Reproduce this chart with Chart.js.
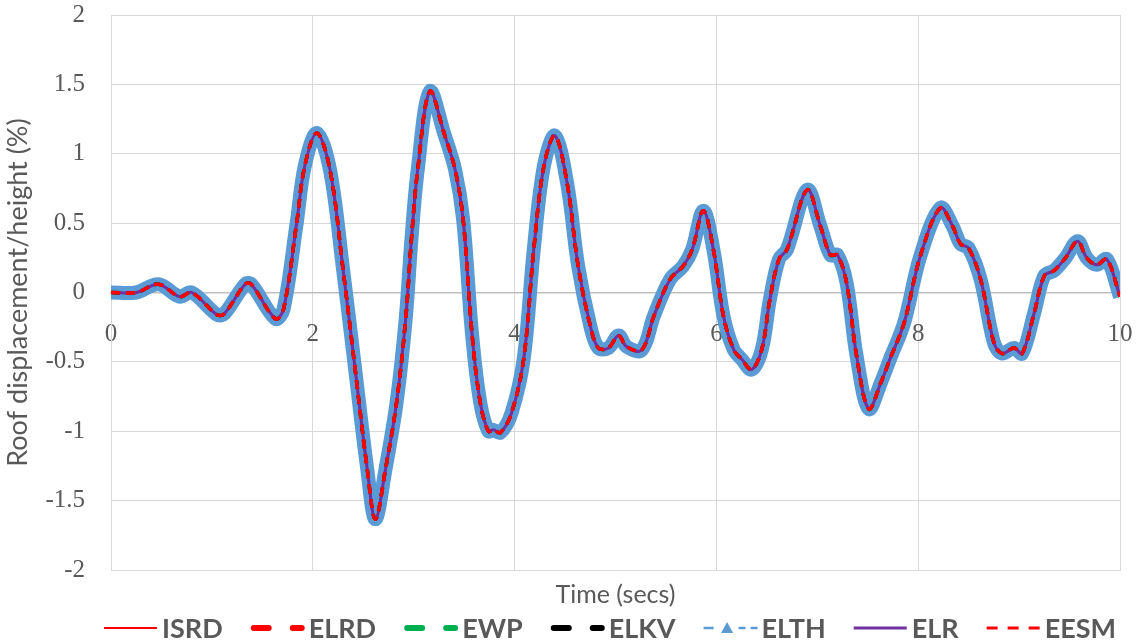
<!DOCTYPE html>
<html>
<head>
<meta charset="utf-8">
<script src="https://cdn.jsdelivr.net/npm/chart.js@4.4.1/dist/chart.umd.min.js"></script>
<style>
  html, body { margin: 0; padding: 0; background: #ffffff; }
  #wrap { width: 1139px; height: 644px; position: relative; }
</style>
</head>
<body>
<div id="wrap"><canvas id="c" width="1139" height="644"></canvas></div>
<script>
// Time axis (seconds)
const timeSecs = [
  0, 0.25, 0.47, 0.68, 0.80, 1.05, 1.12, 1.33, 1.39, 1.63, 1.71, 1.84, 1.92,
  2.04, 2.17, 2.30, 2.42, 2.54, 2.62, 2.72, 2.83, 2.92, 2.98, 3.04, 3.16,
  3.30, 3.41, 3.49, 3.58, 3.66, 3.74, 3.79, 3.86, 3.97, 4.09, 4.19, 4.29,
  4.40, 4.52, 4.63, 4.75, 4.83, 4.93, 5.03, 5.11, 5.26, 5.38, 5.54, 5.67,
  5.76, 5.87, 5.97, 6.07, 6.17, 6.25, 6.35, 6.45, 6.53, 6.62, 6.70, 6.90,
  7.03, 7.13, 7.20, 7.29, 7.39, 7.51, 7.63, 7.72, 7.86, 8.02, 8.22, 8.34,
  8.42, 8.50, 8.62, 8.75, 8.83, 8.95, 9.03, 9.15, 9.25, 9.35, 9.46, 9.58,
  9.67, 9.77, 9.87, 10.0
];

// Roof displacement / height (%) -- all seven models trace the same response
const roofDrift = [
  0, 0, 0.06, -0.03, 0.0, -0.16, -0.155, 0.06, 0.06, -0.19, -0.12, 0.5, 0.91,
  1.15, 0.886, 0.166, -0.555, -1.275, -1.635, -1.275, -0.795, -0.195, 0.406, 0.886, 1.45,
  1.15, 0.886, 0.526, -0.315, -0.795, -1.0, -0.99, -1.01, -0.867, -0.48, 0.31, 0.91,
  1.13, 0.79, 0.19, -0.24, -0.40, -0.40, -0.31, -0.39, -0.415, -0.17, 0.094, 0.19,
  0.31, 0.59, 0.31, -0.17, -0.41, -0.48, -0.555, -0.41, -0.05, 0.24, 0.31, 0.74,
  0.48, 0.27, 0.27, 0.07, -0.46, -0.84, -0.65, -0.48, -0.22, 0.26, 0.61, 0.48,
  0.35, 0.32, 0.09, -0.36, -0.44, -0.40, -0.44, -0.146, 0.12, 0.16, 0.25, 0.37,
  0.25, 0.20, 0.24, -0.03
];

const seriesNames = ['ISRD', 'ELRD', 'EWP', 'ELKV', 'ELTH', 'ELR', 'EESM'];
const yTickLabels = ['-2', '-1.5', '-1', '-0.5', '0', '0.5', '1', '1.5', '2'];
const xTickLabels = ['0', '2', '4', '6', '8', '10'];

const toPoints = vals => timeSecs.map((t, i) => ({ x: t, y: vals[i] }));

const GREY_TEXT = '#595959';
const GRID = '#d9d9d9';
const SANS = 'Lato, "Open Sans", sans-serif';
const SERIF = '"Liberation Serif", "DejaVu Serif", serif';

// line styling per series (drawing order: lower "order" ends up on top)
const seriesStyle = {
  ISRD: { color: '#ff0000', width: 2,   dash: [],      order: 5 },
  ELRD: { color: '#ff0000', width: 3.5, dash: [9, 6],  order: 1 },
  EWP:  { color: '#00b050', width: 3.5, dash: [9, 6],  order: 4 },
  ELKV: { color: '#000000', width: 3.5, dash: [9, 6],  order: 3 },
  ELTH: { color: '#5b9bd5', width: 14,  dash: [],      order: 6 },
  ELR:  { color: '#7030a0', width: 3,   dash: [],      order: 2 },
  EESM: { color: '#ff0000', width: 3,   dash: [9, 6],  order: 0 }
};

const datasets = seriesNames.map(name => {
  const s = seriesStyle[name];
  return {
    label: name,
    data: toPoints(roofDrift),
    borderColor: s.color,
    backgroundColor: s.color,
    borderWidth: s.width,
    borderDash: s.dash,
    borderJoinStyle: 'round',
    pointRadius: 0,
    tension: 0.35,
    fill: false,
    order: s.order
  };
});

// legend sample drawings, Excel style
function drawSample(ctx, name, x, y) {
  const s = seriesStyle[name];
  ctx.save();
  ctx.strokeStyle = s.color;
  ctx.fillStyle = s.color;
  const seg = (a, b) => { ctx.beginPath(); ctx.moveTo(x + a, y); ctx.lineTo(x + b, y); ctx.stroke(); };
  if (name === 'ISRD') {
    ctx.lineWidth = 2; seg(0, 53);
  } else if (name === 'ELR') {
    ctx.lineWidth = 3; seg(0, 53);
  } else if (name === 'ELRD' || name === 'EWP' || name === 'ELKV') {
    ctx.lineWidth = 6; ctx.lineCap = 'round';
    seg(3, 18); seg(42, 51);
  } else if (name === 'ELTH') {
    ctx.lineWidth = 2.5;
    seg(0, 10); seg(35, 42); seg(47, 54);
    ctx.beginPath();
    ctx.moveTo(x + 23.5, y - 6);
    ctx.lineTo(x + 29.5, y + 5);
    ctx.lineTo(x + 17.5, y + 5);
    ctx.closePath();
    ctx.fill();
  } else if (name === 'EESM') {
    ctx.lineWidth = 3;
    seg(0, 11); seg(21, 32); seg(42, 53);
  }
  ctx.restore();
}

const bottomLegend = {
  id: 'bottomLegend',
  afterDraw(chart) {
    const ctx = chart.ctx;
    ctx.save();
    ctx.font = 'bold 27px ' + SANS;
    const sampleW = 53, textGap = 5, itemGap = 28;
    const widths = seriesNames.map(n => sampleW + textGap + ctx.measureText(n).width);
    const total = widths.reduce((a, b) => a + b, 0) + itemGap * (seriesNames.length - 1);
    let x = 610 - total / 2;
    const y = 628;
    seriesNames.forEach((n, i) => {
      drawSample(ctx, n, x, y);
      ctx.fillStyle = GREY_TEXT;
      ctx.textAlign = 'left';
      ctx.textBaseline = 'middle';
      ctx.fillText(n, x + sampleW + textGap, y + 1);
      x += widths[i] + itemGap;
    });
    ctx.restore();
  }
};

// scales keep their own label overhang out of the layout; the plot box is set by layout padding
const noOverhang = (scale) => {
  scale.paddingTop = 0; scale.paddingBottom = 0;
  scale.paddingLeft = 0; scale.paddingRight = 0;
};

new Chart(document.getElementById('c'), {
  type: 'line',
  data: { datasets },
  options: {
    responsive: false,
    devicePixelRatio: 1,
    animation: false,
    layout: { padding: { top: 15, right: 19, bottom: 32, left: 0 } },
    plugins: { legend: { display: false }, tooltip: { enabled: false } },
    scales: {
      x: {
        type: 'linear',
        position: 'bottom',
        min: 0, max: 10,
        afterFit: noOverhang,
        ticks: { display: false, stepSize: 2 },
        grid: { color: GRID, lineWidth: 1, drawTicks: false },
        border: { display: true, color: GRID },
        title: {
          display: true, text: 'Time (secs)', color: GREY_TEXT,
          font: { family: SANS, size: 25 }, padding: { top: 10, bottom: 2 }
        }
      },
      xZero: {
        type: 'linear',
        axis: 'x',
        position: { y: 0 },
        min: 0, max: 10,
        afterFit: noOverhang,
        grid: { display: false, drawTicks: false },
        border: { display: true, color: '#bfbfbf', width: 1.5 },
        ticks: {
          stepSize: 2, padding: 27, color: GREY_TEXT, autoSkip: false, maxRotation: 0,
          font: { family: SERIF, size: 25 },
          callback: (v) => xTickLabels[Math.round(v / 2)]
        }
      },
      y: {
        type: 'linear',
        position: 'left',
        min: -2, max: 2,
        afterFit: (scale) => { noOverhang(scale); scale.width = 111; },
        ticks: {
          stepSize: 0.5, padding: 26, color: GREY_TEXT,
          font: { family: SERIF, size: 25 },
          callback: (v) => yTickLabels[Math.round((v + 2) / 0.5)]
        },
        grid: { color: GRID, lineWidth: 1, drawTicks: false },
        border: { display: true, color: GRID },
        title: {
          display: true, text: 'Roof displacement/height (%)', color: GREY_TEXT,
          font: { family: SANS, size: 27 }, padding: { top: 2, bottom: 0 }
        }
      }
    }
  },
  plugins: [bottomLegend]
});
</script>
</body>
</html>
